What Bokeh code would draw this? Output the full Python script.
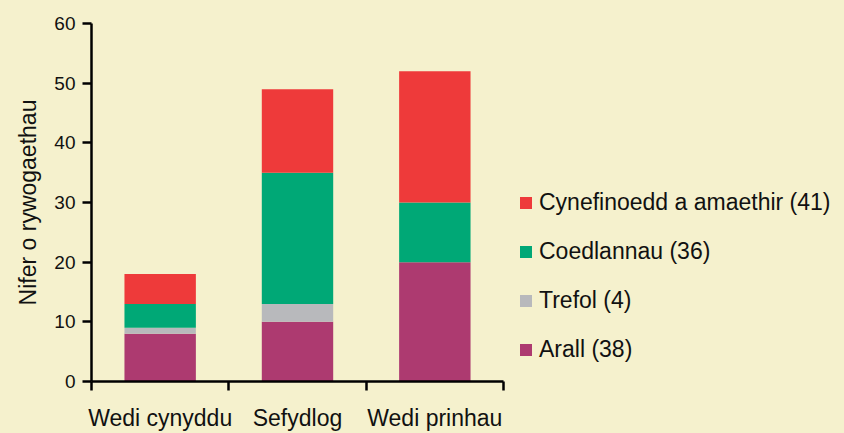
from bokeh.plotting import figure
from bokeh.models import Range1d, FixedTicker, Legend, LegendItem
from bokeh.embed import file_html
from bokeh.resources import INLINE

# Data
categories = ["Wedi cynyddu", "Sefydlog", "Wedi prinhau"]
arall = [8, 10, 20]
trefol = [1, 3, 0]
coedlannau = [4, 22, 10]
cynefinoedd = [5, 14, 22]
series_names = ["Arall (38)", "Trefol (4)", "Coedlannau (36)", "Cynefinoedd a amaethir (41)"]
y_ticks = [0, 10, 20, 30, 40, 50, 60]

colors = ["#AD3A70", "#B8B9BC", "#00A876", "#EE3A3A"]
bg = "#F5F1CD"
FONT = "Liberation Sans"

# layout (pixels)
W, H = 844, 433
left, right_b, top, bottom = 91, 5, 23, 51
axis_px = 412  # width of the drawn category axis
frame_w = W - left - right_b
ncat = len(categories)
x_end = ncat * frame_w / axis_px

xpos = [i + 0.5 for i in range(ncat)]
data = {"x": xpos, "arall": arall, "trefol": trefol, "coedlannau": coedlannau, "cynefinoedd": cynefinoedd}
keys = ["arall", "trefol", "coedlannau", "cynefinoedd"]

p = figure(width=W, height=H, output_backend="svg", toolbar_location=None,
           x_range=Range1d(0, x_end), y_range=Range1d(0, 60),
           min_border_left=left, min_border_right=right_b, min_border_top=top, min_border_bottom=bottom)

renderers = p.vbar_stack(keys, x="x", width=0.52, color=colors, line_width=0, source=data)

p.background_fill_color = bg
p.border_fill_color = bg
p.outline_line_color = None
p.grid.visible = False

# x axis
xa = p.xaxis[0]
xa.bounds = (0, ncat)
xa.ticker = FixedTicker(ticks=xpos, minor_ticks=list(range(ncat + 1)))
xa.major_label_overrides = {x: c for x, c in zip(xpos, categories)}
xa.major_tick_out = 0
xa.major_tick_in = 0
xa.minor_tick_out = 9
xa.minor_tick_in = 0
xa.minor_tick_line_color = "black"
xa.minor_tick_line_width = 2.5
xa.axis_line_color = "black"
xa.axis_line_width = 2.5
xa.major_label_text_font = FONT
xa.major_label_text_font_size = "23px"
xa.major_label_text_color = "#111111"
xa.major_label_standoff = 14

# y axis
ya = p.yaxis[0]
ya.ticker = FixedTicker(ticks=y_ticks, minor_ticks=[])
ya.major_tick_out = 9
ya.major_tick_in = 0
ya.major_tick_line_width = 2.5
ya.axis_line_width = 2.5
ya.axis_line_color = "black"
ya.major_tick_line_color = "black"
ya.major_label_text_font = FONT
ya.major_label_text_font_size = "19px"
ya.major_label_text_color = "#111111"
ya.major_label_standoff = 7
ya.axis_label = "Nifer o rywogaethau"
ya.axis_label_text_font = FONT
ya.axis_label_text_font_size = "23px"
ya.axis_label_text_font_style = "normal"
ya.axis_label_text_color = "#111111"
ya.axis_label_standoff = 10

items = [LegendItem(label=n, renderers=[r]) for n, r in zip(series_names, renderers)][::-1]
legend = Legend(items=items, location=(axis_px + 15, 18), padding=0, margin=0,
                glyph_width=15, glyph_height=15, label_standoff=6,
                label_height=22, spacing=22,
                label_text_font=FONT, label_text_font_size="23px", label_text_color="#111111",
                border_line_alpha=0, background_fill_alpha=0)
p.add_layout(legend)

html = file_html(p, INLINE)
html = html.replace("</head>", "<style>html, body { background: %s; overflow: hidden; }</style></head>" % bg, 1)
open("out.html", "w").write(html)
